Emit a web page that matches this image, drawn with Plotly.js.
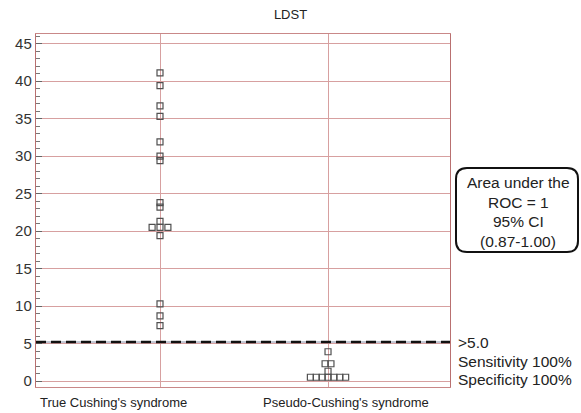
<!DOCTYPE html>
<html>
<head>
<meta charset="utf-8">
<script src="https://cdn.plot.ly/plotly-3.0.1.min.js"></script>
<style>html,body{margin:0;padding:0;background:#fff}#chart{width:581px;height:413px}</style>
</head>
<body>
<div id="chart"></div>
<script>
// ---- data ----
var categories = ["True Cushing's syndrome", "Pseudo-Cushing's syndrome"];
var trueCushing = [41.1, 39.4, 36.7, 35.3, 31.9, 30.0, 29.4, 23.8, 23.2, 21.3, 20.5, 20.5, 20.5, 19.4, 10.3, 8.7, 7.4];
var pseudoCushing = [3.9, 2.3, 2.3, 1.3, 0.5, 0.5, 0.5, 0.5, 0.5, 0.5, 0.5];
var cutoff = 5.2;
var yTicks = [0, 5, 10, 15, 20, 25, 30, 35, 40, 45];
var boxLines = ["Area under the", "ROC = 1", "95% CI", "(0.87-1.00)"];
var cutoffLines = [">5.0", "Sensitivity 100%", "Specificity 100%"];

// dot-plot: spread identical values symmetrically around the category centre
function symX(vals, centre, w) {
  var counts = {}, seen = {};
  vals.forEach(function (v) { counts[v] = (counts[v] || 0) + 1; });
  return vals.map(function (v) {
    var i = seen[v] || 0; seen[v] = i + 1;
    return centre + (i - (counts[v] - 1) / 2) * w;
  });
}

var markerStyle = { symbol: 'square-open', size: 6, color: '#505050', line: { width: 1.2, color: '#505050' } };

var traces = [
  { x: symX(trueCushing, 0, 0.047), y: trueCushing, mode: 'markers', type: 'scatter', marker: markerStyle, hoverinfo: 'y', cliponaxis: false },
  { x: symX(pseudoCushing, 1, 0.035), y: pseudoCushing, mode: 'markers', type: 'scatter', marker: markerStyle, hoverinfo: 'y', cliponaxis: false }
];

var L = 36, R = 450, T = 34, B = 387, FW = 581, FH = 413;
function px(xp) { return (xp - L) / (R - L); }
function py(yp) { return (B - yp) / (B - T); }

// rounded box in paper coords
var bx0 = 456, bx1 = 578, by0 = 168, by1 = 252, rad = 11;
function P(x, y) { return px(x).toFixed(5) + ',' + py(y).toFixed(5); }
var boxPath = 'M' + P(bx0 + rad, by0) + ' L' + P(bx1 - rad, by0) +
  ' Q' + P(bx1, by0) + ' ' + P(bx1, by0 + rad) +
  ' L' + P(bx1, by1 - rad) + ' Q' + P(bx1, by1) + ' ' + P(bx1 - rad, by1) +
  ' L' + P(bx0 + rad, by1) + ' Q' + P(bx0, by1) + ' ' + P(bx0, by1 - rad) +
  ' L' + P(bx0, by0 + rad) + ' Q' + P(bx0, by0) + ' ' + P(bx0 + rad, by0) + ' Z';

var FONT = 'Liberation Sans, Arial, sans-serif';
var annotations = [];
var boxYs = [182, 202, 221, 241];
boxLines.forEach(function (t, i) {
  annotations.push({ xref: 'paper', yref: 'paper', x: px((bx0 + bx1) / 2 + 1), y: py(boxYs[i]), text: t, showarrow: false,
    xanchor: 'center', yanchor: 'middle', font: { family: FONT, size: 15.5, color: '#222' } });
});
var cutYs = [342, 361, 379];
cutoffLines.forEach(function (t, i) {
  annotations.push({ xref: 'paper', yref: 'paper', x: px(456), y: py(cutYs[i]), text: t, showarrow: false,
    xanchor: 'left', yanchor: 'middle', font: { family: FONT, size: 15.5, color: '#222' } });
});
var catX = [113, 346];
categories.forEach(function (t, i) {
  annotations.push({ xref: 'paper', yref: 'paper', x: px(catX[i]), y: py(403), text: t, showarrow: false,
    xanchor: 'center', yanchor: 'middle', font: { family: FONT, size: 13, color: '#222' } });
});

var GRID = '#d7a0a0';
var layout = {
  width: FW, height: FH,
  margin: { l: L, r: FW - R, t: T, b: FH - B, pad: 0 },
  paper_bgcolor: '#fff', plot_bgcolor: '#fff',
  showlegend: false,
  title: { text: 'LDST', font: { family: FONT, size: 13, color: '#222' }, x: px(243), xanchor: 'center', y: 1 - 14 / FH, yanchor: 'middle' },
  xaxis: {
    range: [-0.738, 1.726], tickvals: [0, 1], showticklabels: false, ticks: '',
    showgrid: true, gridcolor: GRID, gridwidth: 1, zeroline: false,
    showline: true, linecolor: '#c98888', linewidth: 1, mirror: true
  },
  yaxis: {
    range: [-0.8, 46.3], tickvals: yTicks, ticktext: yTicks.map(String),
    ticks: 'inside', ticklen: 6, tickcolor: '#666', tickwidth: 1,
    tickfont: { family: FONT, size: 15, color: '#333' },
    minor: { dtick: 1, ticks: 'inside', ticklen: 4, tickcolor: '#777', tickwidth: 1, showgrid: false },
    showgrid: true, gridcolor: GRID, gridwidth: 1, zeroline: false,
    showline: true, linecolor: '#b97070', linewidth: 1.2, mirror: true
  },
  shapes: [
    { type: 'line', xref: 'paper', yref: 'y', x0: 0, x1: 1, y0: cutoff, y1: cutoff, line: { color: '#8890a8', width: 1 } },
    { type: 'line', xref: 'paper', yref: 'y', x0: 0, x1: 1, y0: cutoff, y1: cutoff, line: { color: '#111', width: 2.5, dash: '10px,5px' } },
    { type: 'path', xref: 'paper', yref: 'paper', path: boxPath, line: { color: '#111', width: 2 }, fillcolor: 'rgba(0,0,0,0)' }
  ],
  annotations: annotations
};

Plotly.newPlot('chart', traces, layout, { staticPlot: true, displayModeBar: false });
</script>
</body>
</html>
